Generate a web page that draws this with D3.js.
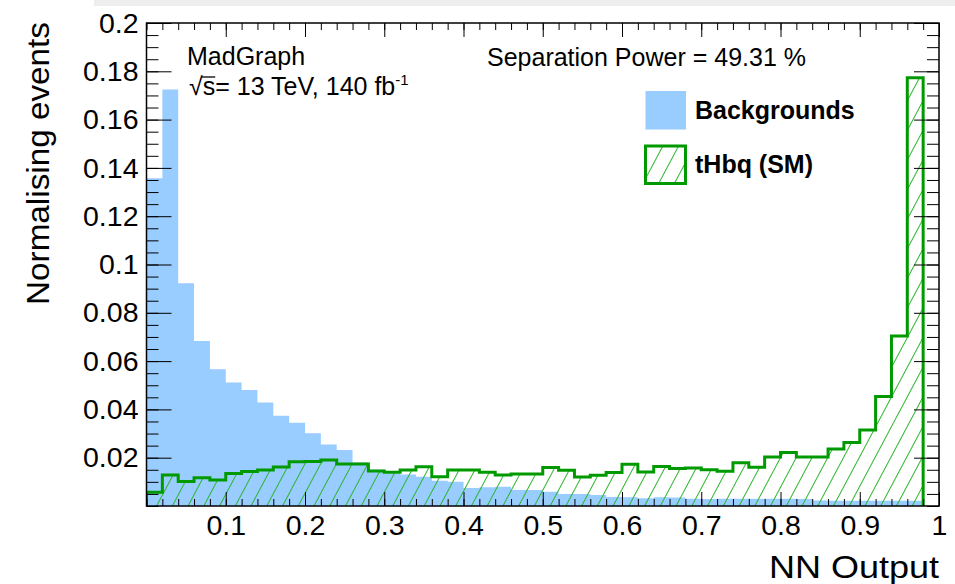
<!DOCTYPE html>
<html>
<head>
<meta charset="utf-8">
<script src="https://cdn.jsdelivr.net/npm/d3@7"></script>
<style>
  body { margin: 0; background: #fff; }
  svg { display: block; }
  text { font-family: "Liberation Sans", Arial, Helvetica, sans-serif; fill: #000; }
</style>
</head>
<body>
<svg id="chart" width="955" height="584"></svg>
<script>
// NN output histograms, normalised to unit area (bin width 0.02)
const binLow = [0.00, 0.02, 0.04, 0.06, 0.08, 0.10, 0.12, 0.14, 0.16, 0.18,
                0.20, 0.22, 0.24, 0.26, 0.28, 0.30, 0.32, 0.34, 0.36, 0.38,
                0.40, 0.42, 0.44, 0.46, 0.48, 0.50, 0.52, 0.54, 0.56, 0.58,
                0.60, 0.62, 0.64, 0.66, 0.68, 0.70, 0.72, 0.74, 0.76, 0.78,
                0.80, 0.82, 0.84, 0.86, 0.88, 0.90, 0.92, 0.94, 0.96];
const binWidth = 0.02;

const backgrounds = [0.1357, 0.1725, 0.0922, 0.0683, 0.0566, 0.0511, 0.0480, 0.0429, 0.0374, 0.0345,
                     0.0301, 0.0255, 0.0232, 0.0180, 0.0150, 0.0135, 0.0130, 0.0121, 0.0105, 0.0100,
                     0.0075, 0.0078, 0.0080, 0.0066, 0.0066, 0.0059, 0.0050, 0.0050, 0.0046, 0.0037,
                     0.0036, 0.0032, 0.0036, 0.0035, 0.0030, 0.0029, 0.0030, 0.0030, 0.0030, 0.0030,
                     0.0030, 0.0029, 0.0023, 0.0022, 0.0022, 0.0022, 0.0022, 0.0022, 0.0022];

const signal = [0.0057, 0.0128, 0.0101, 0.0117, 0.0108, 0.0135, 0.0143, 0.0149, 0.0161, 0.0183,
                0.0184, 0.0190, 0.0174, 0.0174, 0.0145, 0.0140, 0.0149, 0.0163, 0.0121, 0.0149,
                0.0149, 0.0140, 0.0128, 0.0132, 0.0132, 0.0159, 0.0148, 0.0120, 0.0127, 0.0139,
                0.0173, 0.0141, 0.0164, 0.0155, 0.0157, 0.0150, 0.0144, 0.0179, 0.0160, 0.0203,
                0.0222, 0.0203, 0.0203, 0.0236, 0.0263, 0.0315, 0.0453, 0.0704, 0.1773];

const xTickValues = [0.1, 0.2, 0.3, 0.4, 0.5, 0.6, 0.7, 0.8, 0.9, 1.0];
const xTickLabels = ["0.1", "0.2", "0.3", "0.4", "0.5", "0.6", "0.7", "0.8", "0.9", "1"];
const yTickValues = [0.02, 0.04, 0.06, 0.08, 0.10, 0.12, 0.14, 0.16, 0.18, 0.20];
const yTickLabels = ["0.02", "0.04", "0.06", "0.08", "0.1", "0.12", "0.14", "0.16", "0.18", "0.2"];

const seriesNames = ["Backgrounds", "tHbq (SM)"];
const separationText = "Separation Power = 49.31 %";

// ---- layout ----
const frame = { left: 146.5, right: 939, top: 23, bottom: 506 };
const BLUE = "#99ccff";
const GREEN = "#009a00";
const HATCH = "#2db52d";

const svg = d3.select("#chart");
const x = d3.scaleLinear().domain([0, 1]).range([frame.left, frame.right]);
const y = d3.scaleLinear().domain([0, 0.2]).range([frame.bottom, frame.top]);

// header strip
svg.append("rect").attr("x", 94).attr("y", 0).attr("width", 861).attr("height", 6).attr("fill", "#eeeeee");

const defs = svg.append("defs");
defs.append("clipPath").attr("id", "frameClip")
  .append("rect").attr("x", frame.left).attr("y", frame.top)
  .attr("width", frame.right - frame.left).attr("height", frame.bottom - frame.top);

const hatch = defs.append("pattern").attr("id", "hatch")
  .attr("patternUnits", "userSpaceOnUse")
  .attr("width", 13.9).attr("height", 10)
  .attr("patternTransform", "rotate(28)");
hatch.append("line").attr("x1", 0.5).attr("y1", -1).attr("x2", 0.5).attr("y2", 11)
  .attr("stroke", HATCH).attr("stroke-width", 1);

// step outline points: baseline -> bin tops -> baseline
function stepPoints(values) {
  const pts = [[binLow[0], 0]];
  values.forEach((v, i) => pts.push([binLow[i], v]));
  pts.push([binLow[binLow.length - 1] + binWidth, 0]);
  return pts;
}

const area = d3.area().curve(d3.curveStepAfter)
  .x(d => x(d[0])).y0(y(0)).y1(d => y(d[1]));
const line = d3.line().curve(d3.curveStepAfter)
  .x(d => x(d[0])).y(d => y(d[1]));

const plot = svg.append("g").attr("clip-path", "url(#frameClip)");

plot.append("path").datum(stepPoints(backgrounds))
  .attr("d", area).attr("fill", BLUE);

plot.append("path").datum(stepPoints(signal))
  .attr("d", area).attr("fill", "url(#hatch)");
plot.append("path").datum(stepPoints(signal))
  .attr("d", line).attr("fill", "none").attr("stroke", GREEN).attr("stroke-width", 3);

// ---- axes (ticks on all four sides, pointing inwards) ----
function styleAxis(g) {
  g.select(".domain").remove();
  g.selectAll(".tick line").attr("stroke", "#000").attr("stroke-width", 1);
  g.selectAll(".tick text").attr("font-size", 28.5).attr("font-family", "Liberation Sans, Arial, sans-serif").attr("fill", "#000");
}

// bottom
svg.append("g").attr("transform", `translate(0,${frame.bottom})`)
  .call(d3.axisBottom(x).tickValues(x.ticks(50)).tickSize(-7).tickFormat(""))
  .call(styleAxis);
svg.append("g").attr("transform", `translate(0,${frame.bottom})`)
  .call(d3.axisBottom(x).tickValues(xTickValues).tickSize(-14).tickPadding(9)
        .tickFormat((d, i) => xTickLabels[i]))
  .call(styleAxis);
// top
svg.append("g").attr("transform", `translate(0,${frame.top})`)
  .call(d3.axisTop(x).tickValues(x.ticks(50)).tickSize(-7).tickFormat(""))
  .call(styleAxis);
svg.append("g").attr("transform", `translate(0,${frame.top})`)
  .call(d3.axisTop(x).tickValues(xTickValues).tickSize(-14).tickFormat(""))
  .call(styleAxis);
// left
svg.append("g").attr("transform", `translate(${frame.left},0)`)
  .call(d3.axisLeft(y).tickValues(y.ticks(40)).tickSize(-12).tickFormat(""))
  .call(styleAxis);
svg.append("g").attr("transform", `translate(${frame.left},0)`)
  .call(d3.axisLeft(y).tickValues(yTickValues).tickSize(-25).tickPadding(8)
        .tickFormat((d, i) => yTickLabels[i]))
  .call(styleAxis);
// right
svg.append("g").attr("transform", `translate(${frame.right},0)`)
  .call(d3.axisRight(y).tickValues(y.ticks(40)).tickSize(-12).tickFormat(""))
  .call(styleAxis);
svg.append("g").attr("transform", `translate(${frame.right},0)`)
  .call(d3.axisRight(y).tickValues(yTickValues).tickSize(-25).tickFormat(""))
  .call(styleAxis);

// frame
svg.append("rect").attr("x", frame.left).attr("y", frame.top)
  .attr("width", frame.right - frame.left).attr("height", frame.bottom - frame.top)
  .attr("fill", "none").attr("stroke", "#000").attr("stroke-width", 1.5);

// ---- axis titles ----
svg.append("text").attr("x", frame.right).attr("y", 578)
  .attr("text-anchor", "end").attr("font-size", 32)
  .attr("textLength", 170).attr("lengthAdjust", "spacingAndGlyphs").text("NN Output");
svg.append("text").attr("transform", `translate(49,${frame.top - 1}) rotate(-90)`)
  .attr("text-anchor", "end").attr("font-size", 32)
  .attr("textLength", 283).attr("lengthAdjust", "spacingAndGlyphs").text("Normalising events");

// ---- annotations ----
svg.append("text").attr("x", 187).attr("y", 65).attr("font-size", 25).text("MadGraph");
svg.append("text").attr("x", 487).attr("y", 65.5).attr("font-size", 25).text(separationText);

const rootS = svg.append("text").attr("x", 189).attr("y", 95).attr("font-size", 25);
const radical = rootS.append("tspan").text("\u221A");
rootS.append("tspan").text("s");
rootS.append("tspan").text("= 13 TeV, 140 fb");
rootS.append("tspan").attr("font-size", 15).attr("dy", -10).text("-1");
// overline of the square root over "s"
{
  const rw = radical.node().getComputedTextLength();
  const sw = 12.5;
  svg.append("line").attr("x1", 189 + rw - 1).attr("x2", 189 + rw + sw)
    .attr("y1", 77).attr("y2", 77).attr("stroke", "#000").attr("stroke-width", 1.3);
}

// ---- legend ----
svg.append("rect").attr("x", 645.5).attr("y", 91).attr("width", 40.5).attr("height", 38.5).attr("fill", BLUE);
svg.append("rect").attr("x", 645.5).attr("y", 146).attr("width", 40).attr("height", 37.5)
  .attr("fill", "url(#hatch)").attr("stroke", GREEN).attr("stroke-width", 3);
svg.append("text").attr("x", 695).attr("y", 118.5).attr("font-size", 25).attr("font-weight", "bold").text(seriesNames[0]);
svg.append("text").attr("x", 695).attr("y", 173).attr("font-size", 25).attr("font-weight", "bold").text(seriesNames[1]);
</script>
</body>
</html>
